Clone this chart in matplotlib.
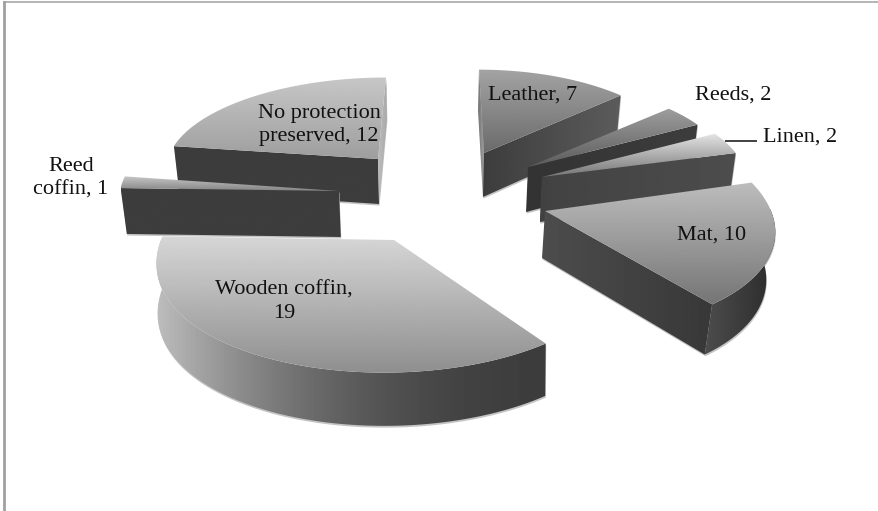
import numpy as np
import matplotlib
matplotlib.use("Agg")
import matplotlib.pyplot as plt
from matplotlib.patches import Polygon

# ---- data
categories = ["Leather", "Reeds", "Linen", "Mat", "Wooden coffin", "Reed coffin", "No protection preserved"]
values = [7, 2, 2, 10, 19, 1, 12]

# ---- layout of each exploded slice on the page
origin_x = [484, 528, 542, 545, 394, 339, 378]
origin_y = [153, 167, 177, 211, 240, 191, 159]
radius_x = [200, 201, 205, 226, 233, 219, 210]
radius_y = [90, 91, 93, 110, 122, 100, 88]
lean = [5, 0, 0, 26, 8, 0, -8]
lean_left = [0, 0, 0, 0, -18, 0, 0]
depth = [44, 45, 45, 47, 49, 46, 45]
vanish_k = [.02, .02, .02, .026, .004, .02, .02]
persp = 0.08
vanish_x = 430.0

# ---- shading
top_light = [.64, .62, .90, .74, .84, .78, .78]
top_dark = [.42, .36, .46, .46, .56, .52, .62]
side_left = [.3, .3, .3, .30, .74, .3, .3]
side_right = [.3, .3, .3, .17, .24, .3, .3]
side_curve = [1, 1, 1, 1, 2.0, 1, 1]
start_cut = [(.62, .45), (.25, .25), (.25, .25), (.25, .25), (.24, .24), (.24, .24), (.24, .24)]
end_cut = [(.24, .36), (.20, .24), (.26, .30), (.30, .22), (.24, .24), (.24, .24), (.74, .66)]
draw_order = [0, 1, 2, 3, 6, 5, 4]

labels = [
    ("Leather, 7", 533, 95), ("Reeds, 2", 733, 95), ("Linen, 2", 800, 137), ("Mat, 10", 712, 235),
    ("Wooden coffin,\n19", 284, 302), ("Reed\ncoffin, 1", 71, 178), ("No protection\npreserved, 12", 319, 125),
]

fig = plt.figure(figsize=(8.79, 5.11), dpi=100, facecolor="white")
ax = fig.add_axes([0, 0, 1, 1])
ax.set_axis_off()

z = [2]


def shaded(poly, c0, c1, horizontal, curve=1.0):
    poly = np.asarray(poly)
    x0, y0 = poly.min(axis=0)
    x1, y1 = poly.max(axis=0)
    t = np.linspace(0, 1, 128)
    g = c1 + (c0 - c1) * (1 - t) ** curve
    arr = g[None, :] if horizontal else g[:, None]
    im = ax.imshow(arr, cmap="gray", vmin=0, vmax=1, extent=[x0, x1, y1, y0],
                   aspect="auto", interpolation="bilinear", zorder=z[0])
    patch = Polygon(poly, closed=True, transform=ax.transData, facecolor="none", edgecolor="none")
    ax.add_patch(patch)
    im.set_clip_path(patch)
    z[0] += 1


def project(i, u, v):
    s = 1.0 / (1.0 - persp * v)
    return (origin_x[i] + radius_x[i] * u * s + lean[i] * v + lean_left[i] * v * (1 - u),
            origin_y[i] + radius_y[i] * v * s, s)


def lower(i, p):
    x, y, s = p
    return (x - (x - vanish_x) * vanish_k[i], y + depth[i] * s)


def cross(a, b):
    return a[0] * b[1] - a[1] * b[0]


edges = np.cumsum([0] + values) / sum(values) * 2 * np.pi

for i in draw_order:
    a0, a1 = edges[i], edges[i + 1]
    th = np.linspace(a0, a1, 120)
    rim = [project(i, np.sin(t), -np.cos(t)) for t in th]
    apex = project(i, 0.0, 0.0)
    mid = (a0 + a1) / 2
    inner = project(i, .5 * np.sin(mid), -.5 * np.cos(mid))
    into = (inner[0] - apex[0], inner[1] - apex[1])

    for corner, shade in ((rim[0], start_cut[i]), (rim[-1], end_cut[i])):
        e = (corner[0] - apex[0], corner[1] - apex[1])
        lo = lower(i, corner)
        down = (lo[0] - corner[0], lo[1] - corner[1])
        if cross(e, into) * cross(e, down) < 0:
            face = [apex[:2], corner[:2], lo, lower(i, apex)]
            shadow = np.array(face) + [0.5, 1.6]
            ax.add_patch(Polygon(shadow, closed=True, facecolor="#c4c4c4", edgecolor="none", zorder=z[0]))
            z[0] += 1
            left_to_right = shade if corner[0] > apex[0] else shade[::-1]
            shaded(face, left_to_right[0], left_to_right[1], True)

    front = [(p, t) for p, t in zip(rim, th) if -np.cos(t) >= -0.02]
    if front:
        pts = [p for p, _ in front]
        wall = [q[:2] for q in pts] + [lower(i, q) for q in pts[::-1]]
        shadow = np.array(wall) + [0.5, 1.8]
        ax.add_patch(Polygon(shadow, closed=True, facecolor="#c4c4c4", edgecolor="none", zorder=z[0]))
        z[0] += 1
        shaded(wall, side_left[i], side_right[i], True, side_curve[i])

    shaded([apex[:2]] + [p[:2] for p in rim], top_light[i], top_dark[i], False)

for text, x, y in labels:
    ax.text(x, y, text, ha="center", va="center", family="Liberation Serif", fontsize=16,
            color="#111111", linespacing=1.33, zorder=z[0] + 1)

ax.plot([725, 757], [141, 141], color="#222222", lw=1.2, zorder=z[0] + 1, solid_capstyle="butt")
ax.plot([4.5, 879], [2.5, 2.5], color="#b4b4b4", lw=1.4, zorder=z[0] + 1)
ax.plot([4.5, 4.5], [2.5, 511], color="#a0a0a0", lw=2.0, zorder=z[0] + 1)

ax.set_xlim(0, 879)
ax.set_ylim(511, 0)
fig.savefig("out.png", dpi=100, facecolor="white")
